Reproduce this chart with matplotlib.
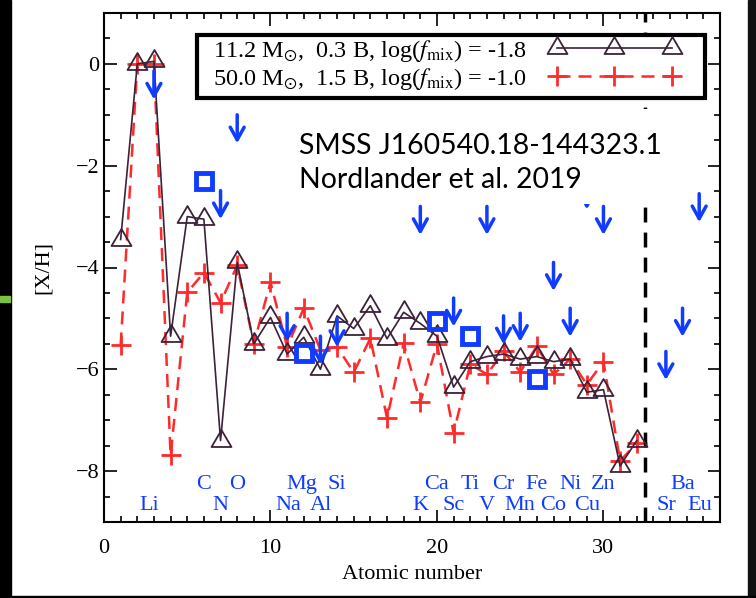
import matplotlib
matplotlib.use("Agg")
import matplotlib.pyplot as plt
from matplotlib.patches import Rectangle
from matplotlib.path import Path

plt.rcParams['font.family'] = ['Liberation Serif', 'DejaVu Serif']
plt.rcParams['mathtext.fontset'] = 'stix'

# ---------------- data ----------------
z_model = list(range(1, 33))
model_low = [-3.45, 0.0, 0.05, -5.35, -3.0, -3.05, -7.4, -3.9, -5.5, -4.98,
             -5.7, -5.37, -6.0, -4.95, -5.2, -4.75, -5.4, -4.88, -5.1, -5.35,
             -6.35, -5.85, -5.75, -5.7, -5.8, -5.75, -5.85, -5.8, -6.45, -6.4,
             -7.9, -7.4]
model_high = [-5.53, 0.0, 0.0, -7.69, -4.49, -4.1, -4.69, -3.96, -5.5, -4.29,
              -5.56, -4.8, -5.62, -5.56, -6.06, -5.39, -6.96, -5.49, -6.65, -5.5,
              -7.25, -5.9, -6.1, -5.65, -6.05, -5.55, -6.1, -5.8, -6.3, -5.85,
              -7.8, -7.45]
label_low = "11.2 M$_{\\odot}$,  0.3 B, log($f_{\\rm mix}$) = -1.8"
label_high = "50.0 M$_{\\odot}$,  1.5 B, log($f_{\\rm mix}$) = -1.0"

det_z = [6, 12, 20, 22, 26]
det_val = [-2.3, -5.67, -5.05, -5.35, -6.2]

lim_z = [3, 7, 8, 11, 13, 14, 19, 21, 23, 24, 25, 27, 28, 29, 30, 33.75, 34.75, 35.75]
lim_val = [-0.14, -2.49, -1.0, -4.9, -5.35, -5.0, -2.8, -4.6, -2.8, -4.95, -4.9,
           -3.9, -4.8, -2.3, -2.8, -5.65, -4.8, -2.55]

el_upper = ['C', 'O', 'Mg', 'Si', 'Ca', 'Ti', 'Cr', 'Fe', 'Ni', 'Zn', 'Ba']
el_upper_x = [6, 8, 11.9, 14, 20, 22, 24, 26, 28, 30, 34.75]
el_lower = ['Li', 'N', 'Na', 'Al', 'K', 'Sc', 'V', 'Mn', 'Co', 'Cu', 'Sr', 'Eu']
el_lower_x = [2.7, 7, 11.05, 13, 19, 21, 23, 25, 27, 29, 33.75, 35.8]

divider_x = 32.5
star_name = "SMSS J160540.18-144323.1"
reference = "Nordlander et al. 2019"

# ---------------- styles ----------------
purple = '#3b2238'
red = '#ff2a2a'
blue = '#0f3cff'
tri_marker = Path([(-1, -0.55), (1, -0.55), (0, 1.15), (-1, -0.55)],
                  [Path.MOVETO, Path.LINETO, Path.LINETO, Path.CLOSEPOLY])

fig = plt.figure(figsize=(7.56, 5.98), dpi=100)
fig.patch.set_facecolor('white')
# slide frame remnants
fig.add_artist(Rectangle((0, 0), 11/756, 1, transform=fig.transFigure, color='black', zorder=0))
fig.add_artist(Rectangle((748/756, 0), 8/756, 1, transform=fig.transFigure, color='#111111', zorder=0))
fig.add_artist(Rectangle((0, 0), 1, 2/598, transform=fig.transFigure, color='black', zorder=0))
fig.add_artist(Rectangle((0, 1-302/598), 10/756, 6/598, transform=fig.transFigure, color='#7ac143', zorder=1))

ax = fig.add_axes([104/756, 1-522/598, (720-104)/756, (522-13)/598])
ax.set_xlim(0, 37)
ax.set_ylim(-9, 1)

h1, = ax.plot(z_model, model_low, color=purple, lw=1.2, marker=tri_marker, ms=16.5,
              mfc='none', mec=purple, mew=1.3, label=label_low, zorder=3)
h2, = ax.plot(z_model, model_high, color=red, lw=1.8, dashes=(5.2, 3.2),
              marker='+', ms=15, mew=2.0, label=label_high, zorder=2)

ax.plot(det_z, det_val, linestyle='none', marker='s', ms=12, mfc='none',
        mec=blue, mew=3.5, zorder=4)

for x, v in zip(lim_z, lim_val):
    ax.annotate('', xy=(x, v - 0.56), xytext=(x, v),
                arrowprops=dict(arrowstyle='->,head_length=0.45,head_width=0.25',
                                color=blue, lw=2.5, mutation_scale=20,
                                shrinkA=0, shrinkB=0), zorder=3)

ax.axvline(divider_x, color='black', lw=2.5, dashes=(4.3, 2.9), zorder=2)

for s, x in zip(el_upper, el_upper_x):
    ax.text(x, -8.27, s, color=blue, ha='center', va='center', fontsize=16)
for s, x in zip(el_lower, el_lower_x):
    ax.text(x, -8.67, s, color=blue, ha='center', va='center', fontsize=16)

# white text box
ax.add_patch(Rectangle((11.2, -2.76), 22.3, 1.88, facecolor='white', edgecolor='none', zorder=6))
ax.text(11.7, -1.61, star_name, family=['Lato', 'DejaVu Sans'], fontsize=20.4,
        ha='left', va='center', zorder=7)
ax.text(11.7, -2.29, reference, family=['Lato', 'DejaVu Sans'], fontsize=20.4,
        ha='left', va='center', zorder=7)

# legend frame drawn separately for exact extent
ax.add_patch(Rectangle((93/616, 424/509), (705-197)/616, 63/509, transform=ax.transAxes,
                       facecolor='white', edgecolor='black', lw=3, zorder=8))
leg = ax.legend(handles=[h1, h2], loc='upper left', bbox_to_anchor=(109/616, 484/509),
                markerfirst=False, numpoints=3, handlelength=5.3, frameon=False,
                fontsize=17.5, borderaxespad=0, borderpad=0, labelspacing=0.08,
                handletextpad=0.95)
leg.set_zorder(9)

ax.set_xticks([0, 10, 20, 30])
ax.set_xticks(range(0, 38), minor=True)
ax.set_yticks([0, -2, -4, -6, -8])
ax.set_yticks([v * 0.5 for v in range(-18, 3)], minor=True)
ax.tick_params(which='both', direction='in', top=True, right=True, labelsize=16, width=1.2)
ax.tick_params(which='major', length=9)
ax.tick_params(which='minor', length=4.5)
ax.tick_params(axis='x', pad=12)
for sp in ax.spines.values():
    sp.set_linewidth(1.5)

ax.set_xlabel('Atomic number', fontsize=16, labelpad=5)
ax.set_ylabel('[X/H]', fontsize=16, labelpad=16)

fig.savefig('out.png', dpi=100)
